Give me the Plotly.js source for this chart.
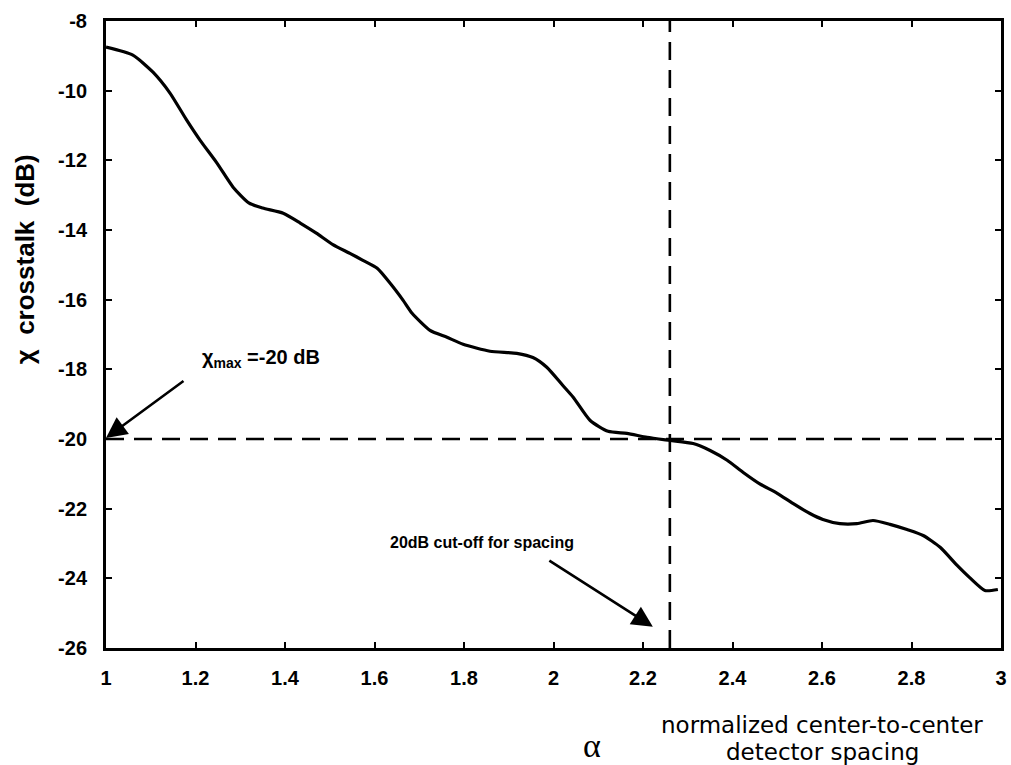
<!DOCTYPE html>
<html>
<head>
<meta charset="utf-8">
<script src="https://cdn.plot.ly/plotly-3.0.1.min.js"></script>
<style>html,body{margin:0;padding:0;background:#fff;}#chart{width:1011px;height:765px;}</style>
</head>
<body>
<div id="chart"></div>
<script>
// normalized center-to-center detector spacing (alpha)
const alpha = [1.0, 1.06, 1.105, 1.143, 1.18, 1.21, 1.248, 1.284, 1.32, 1.35, 1.396, 1.434, 1.47, 1.507, 1.545, 1.574, 1.606, 1.635, 1.664, 1.684, 1.724, 1.762, 1.798, 1.858, 1.918, 1.954, 1.985, 2.02, 2.044, 2.082, 2.122, 2.164, 2.209, 2.26, 2.312, 2.35, 2.388, 2.424, 2.46, 2.50, 2.535, 2.573, 2.602, 2.64, 2.678, 2.714, 2.752, 2.79, 2.826, 2.864, 2.902, 2.93, 2.964, 2.993];
// crosstalk chi (dB)
const crosstalk = [-8.75, -8.98, -9.47, -10.07, -10.84, -11.42, -12.08, -12.77, -13.23, -13.37, -13.52, -13.80, -14.09, -14.42, -14.67, -14.87, -15.10, -15.53, -16.02, -16.39, -16.88, -17.08, -17.28, -17.48, -17.54, -17.66, -17.94, -18.45, -18.8, -19.47, -19.78, -19.84, -19.95, -20.04, -20.13, -20.33, -20.61, -20.96, -21.28, -21.56, -21.85, -22.14, -22.31, -22.43, -22.43, -22.34, -22.45, -22.6, -22.77, -23.11, -23.63, -23.98, -24.35, -24.32];

const thresholdX = [1, 3];
const thresholdY = [-20, -20];      // chi_max = -20 dB
const cutoffX = [2.26, 2.26];       // 20 dB cut-off spacing
const cutoffY = [-26, -8];

const xTickVals = [1, 1.2, 1.4, 1.6, 1.8, 2, 2.2, 2.4, 2.6, 2.8, 3];
const xTickText = ["1", "1.2", "1.4", "1.6", "1.8", "2", "2.2", "2.4", "2.6", "2.8", "3"];
const yTickVals = [-8, -10, -12, -14, -16, -18, -20, -22, -24, -26];
const yTickText = ["-8", "-10", "-12", "-14", "-16", "-18", "-20", "-22", "-24", "-26"];

const sans = "Liberation Sans, Arial, sans-serif";
const tickFont = {family: sans, size: 20, color: "#000", weight: "bold"};

const traces = [
  {x: thresholdX, y: thresholdY, mode: "lines", line: {color: "#000", width: 2.6, dash: "18px,10px"}, hoverinfo: "skip"},
  {x: cutoffX, y: cutoffY, mode: "lines", line: {color: "#000", width: 2.6, dash: "18px,10px"}, hoverinfo: "skip"},
  {x: alpha, y: crosstalk, mode: "lines", line: {color: "#000", width: 3.2, shape: "spline", smoothing: 0.6}}
];

const layout = {
  width: 1011, height: 765,
  margin: {l: 106, r: 10, t: 21, b: 117},
  paper_bgcolor: "#fff", plot_bgcolor: "#fff",
  showlegend: false,
  xaxis: {
    range: [1, 3], tickvals: xTickVals, ticktext: xTickText,
    ticks: "inside", ticklen: 6, tickwidth: 2, tickcolor: "#000",
    showline: true, linecolor: "#000", linewidth: 3, mirror: "ticks",
    showgrid: false, zeroline: false, tickfont: tickFont, ticklabelstandoff: 10
  },
  yaxis: {
    range: [-26, -8], tickvals: yTickVals, ticktext: yTickText,
    ticks: "inside", ticklen: 6, tickwidth: 2, tickcolor: "#000",
    showline: true, linecolor: "#000", linewidth: 3, mirror: "ticks",
    showgrid: false, zeroline: false, tickfont: tickFont, ticklabelstandoff: 12
  },
  annotations: [
    {xref: "paper", yref: "paper", x: -0.0905, y: 0.62, xanchor: "center", yanchor: "middle",
     text: "χ  crosstalk  (dB)", textangle: -90, showarrow: false,
     font: {family: sans, size: 26, color: "#000", weight: "bold"}},
    {xref: "paper", yref: "paper", x: 0.543, y: -0.155, xanchor: "center", yanchor: "middle",
     text: "α", showarrow: false, font: {family: "Liberation Serif, serif", size: 34, color: "#000"}},
    {xref: "paper", yref: "paper", x: 0.80, y: -0.1228, xanchor: "center", yanchor: "middle",
     text: "normalized center-to-center", showarrow: false,
     font: {family: "DejaVu Sans, sans-serif", size: 23, color: "#000"}},
    {xref: "paper", yref: "paper", x: 0.80, y: -0.1655, xanchor: "center", yanchor: "middle",
     text: "detector spacing", showarrow: false,
     font: {family: "DejaVu Sans, sans-serif", size: 23, color: "#000"}},
    {x: 1.21, y: -17.7, xanchor: "left", yanchor: "middle", text: "χ<sub>max</sub> =-20 dB", showarrow: false,
     font: {family: sans, size: 20, color: "#000", weight: "bold"}},
    {x: 1.0, y: -19.97, text: "", showarrow: true, ax: 79, ay: -58, arrowhead: 2, arrowsize: 1.6, arrowwidth: 2.6, arrowcolor: "#000", standoff: 0},
    {x: 1.84, y: -22.96, xanchor: "center", yanchor: "middle", text: "20dB cut-off for spacing", showarrow: false,
     font: {family: sans, size: 16, color: "#000", weight: "bold"}},
    {x: 2.222, y: -25.39, text: "", showarrow: true, ax: -105, ay: -67, arrowhead: 2, arrowsize: 1.6, arrowwidth: 2.6, arrowcolor: "#000", standoff: 0}
  ]
};

Plotly.newPlot("chart", traces, layout, {staticPlot: true});
</script>
</body>
</html>
